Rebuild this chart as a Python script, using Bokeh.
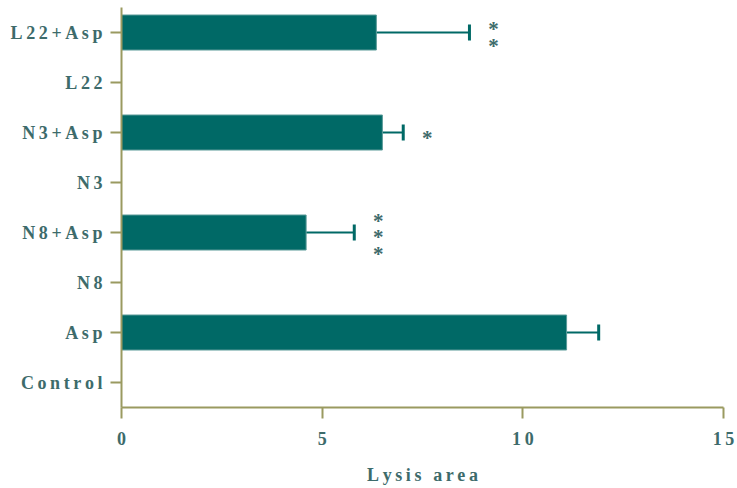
from bokeh.plotting import figure
from bokeh.models import FactorRange, ColumnDataSource, Whisker, TeeHead, FixedTicker
from bokeh.core.properties import value
from bokeh.embed import file_html
from bokeh.resources import INLINE

categories = ["Control", "Asp", "N8", "N8+Asp", "N3", "N3+Asp", "L22", "L22+Asp"]
means = [0, 11.09, 0, 4.6, 0, 6.5, 0, 6.35]
errors = [0, 0.8, 0, 1.2, 0, 0.52, 0, 2.32]
stars = ["", "", "", "*\n*\n*", "", "*", "", "*\n*"]
x_ticks = [0, 5, 10, 15]
x_title = "Lysis area"

BAR = "#006966"
AXIS = "#9a9a60"
TXT = "#3d6b6b"
FONT = "Liberation Serif"
SP = "\u2009"


def spaced(s):
    return SP.join(list(s))


labels = [spaced(c) for c in categories]
upper = [m + e for m, e in zip(means, errors)]
src = ColumnDataSource(dict(cat=labels, mean=means, upper=upper,
                            star=stars, sx=[u + 0.6 for u in upper]))
wsrc = ColumnDataSource(dict(cat=[c for c, e in zip(labels, errors) if e > 0],
                             mean=[m for m, e in zip(means, errors) if e > 0],
                             upper=[u for u, e in zip(upper, errors) if e > 0]))

p = figure(width=737, height=488, y_range=FactorRange(*labels, range_padding=0),
           x_range=(0, 15), output_backend="svg", toolbar_location=None,
           min_border_left=121, min_border_right=14, min_border_top=7, min_border_bottom=81)
p.y_range.factor_padding = 0
p.hbar(y="cat", right="mean", left=0, height=0.7, source=src,
       fill_color=BAR, line_color="#5a9a98", line_width=1)
w = Whisker(base="cat", lower="mean", upper="upper", dimension="width", source=wsrc,
            line_color=BAR, line_width=2, lower_head=None,
            upper_head=TeeHead(size=16, line_color=BAR, line_width=3))
p.add_layout(w)
p.text(x="sx", y="cat", text="star", source=src, text_font=value(FONT),
       text_font_size="21px", text_font_style="bold", text_color=TXT,
       text_align="center", text_baseline="middle", text_line_height=0.68,
       y_offset=5)

p.grid.visible = False
p.outline_line_color = None
p.xaxis.ticker = FixedTicker(ticks=x_ticks)
p.xaxis.major_label_overrides = {t: spaced(str(t)) for t in x_ticks}
p.xaxis.axis_label = spaced(x_title)
for ax in (p.xaxis[0], p.yaxis[0]):
    ax.axis_line_color = AXIS
    ax.axis_line_width = 2
    ax.major_tick_line_color = AXIS
    ax.major_tick_line_width = 2
    ax.major_tick_out = 11
    ax.major_tick_in = 0
    ax.minor_tick_line_color = None
    ax.major_label_text_font = FONT
    ax.major_label_text_font_style = "bold"
    ax.major_label_text_color = TXT
    ax.major_label_text_font_size = "18px"
    ax.axis_label_text_font = FONT
    ax.axis_label_text_font_style = "bold"
    ax.axis_label_text_color = TXT
    ax.axis_label_text_font_size = "18px"
p.xaxis.major_label_standoff = 10
p.xaxis.axis_label_standoff = 13
p.yaxis.major_label_standoff = 8

open("out.html", "w").write(file_html(p, INLINE))
